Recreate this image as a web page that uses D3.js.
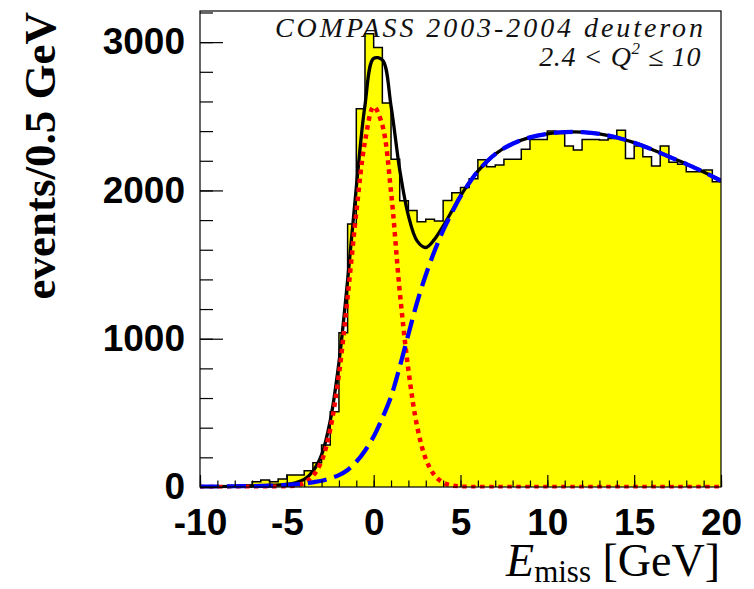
<!DOCTYPE html>
<html><head><meta charset="utf-8">
<script src="https://cdn.jsdelivr.net/npm/d3@7"></script>
<style>body{margin:0;background:#fff}</style>
</head><body>
<svg id="c" width="754" height="589"></svg>
<script>
// Histogram: lower bin edges (GeV), 0.5 GeV bins
const binLow = [-10,-9.5,-9,-8.5,-8,-7.5,-7,-6.5,-6,-5.5,-5,-4.5,-4,-3.5,-3,-2.5,-2,-1.5,-1,-0.5,
  0,0.5,1,1.5,2,2.5,3,3.5,4,4.5,5,5.5,6,6.5,7,7.5,8,8.5,9,9.5,
  10,10.5,11,11.5,12,12.5,13,13.5,14,14.5,15,15.5,16,16.5,17,17.5,18,18.5,19,19.5];
const binCounts = [3,4,6,8,10,14,36,47,36,54,81,81,110,164,283,508,1040,1773,2550,3057,
  2964,2590,2210,1930,1865,1789,1805,1794,1932,1985,2020,2078,2207,2160,2171,2210,2210,2277,2344,2344,
  2400,2384,2300,2272,2344,2344,2340,2350,2405,2216,2299,2227,2165,2300,2190,2176,2126,2126,2137,2059];
const histUpperEdge = 20;

// Fit curves
const curveE = [-10,-9,-8,-7,-6,-5,-4.5,-4,-3.5,-3,-2.5,-2,-1.5,-1,-0.5,0,0.5,1,1.5,2,2.5,3,3.5,4,4.5,5,5.5,6,
  7,8,9,10,11,12,13,14,15,16,17,18,19,20];
const signalFit = [0,0,0,0,1,4,10,28,75,175,390,760,1280,1850,2330,2565,2440,1990,1320,790,410,190,80,30,10,3,1,0,
  0,0,0,0,0,0,0,0,0,0,0,0,0,0];
const backgroundFit = [2,3,4,6,9,14,18,23,32,42,58,80,115,170,245,340,465,610,810,1030,1245,1430,1590,1730,1850,1960,2050,2130,
  2245,2315,2358,2382,2393,2393,2382,2357,2322,2278,2228,2178,2125,2065];
const totalFit = [2,3,4,6,10,18,28,51,107,217,448,840,1395,2020,2575,2890,2880,2570,2140,1830,1660,1615,1670,1760,1860,1963,2051,2130,
  2245,2315,2358,2382,2393,2393,2382,2357,2322,2278,2228,2178,2125,2065];

const xMajorTicks = [-10,-5,0,5,10,15,20];
const xMinorTicks = [-10,-9,-8,-7,-6,-5,-4,-3,-2,-1,0,1,2,3,4,5,6,7,8,9,10,11,12,13,14,15,16,17,18,19,20];
const yMajorTicks = [0,1000,2000,3000];
const yMinorTicks = [0,200,400,600,800,1000,1200,1400,1600,1800,2000,2200,2400,2600,2800,3000,3200];

const legendLine1 = "COMPASS 2003-2004 deuteron";

const svg = d3.select('#c');
svg.append('rect').attr('width',754).attr('height',589).attr('fill','#fff');

const L=200, R=721, T=11, B=487;
const x = d3.scaleLinear().domain([-10,20]).range([L,R]);
const y = d3.scaleLinear().domain([0,3210]).range([B,T]);

svg.append('clipPath').attr('id','frame').append('rect')
  .attr('x',L).attr('y',T).attr('width',R-L).attr('height',B-T);
svg.append('clipPath').attr('id','frame2').append('rect')
  .attr('x',L).attr('y',T).attr('width',R-L).attr('height',B-T+1.5);

const plot = svg.append('g').attr('clip-path','url(#frame)');
const curves = svg.append('g').attr('clip-path','url(#frame2)');

const histPts = binLow.map((e,i)=>[e,binCounts[i]]);
histPts.push([histUpperEdge, binCounts[binCounts.length-1]]);

plot.append('path')
  .attr('d', d3.area().x(d=>x(d[0])).y0(y(0)).y1(d=>y(d[1])).curve(d3.curveStepAfter)(histPts))
  .attr('fill','#ffff00');
plot.append('path')
  .attr('d', d3.line().x(d=>x(d[0])).y(d=>y(d[1])).curve(d3.curveStepAfter)(histPts))
  .attr('fill','none').attr('stroke','#000').attr('stroke-width',1.5);

const fitLine = vals => d3.line().x((d,i)=>x(curveE[i])).y(d=>y(d)).curve(d3.curveCatmullRom)(vals);

curves.append('path').attr('d',fitLine(totalFit))
  .attr('fill','none').attr('stroke','#000').attr('stroke-width',3.3);
curves.append('path').attr('d',fitLine(signalFit))
  .attr('fill','none').attr('stroke','#ff0000').attr('stroke-width',4.5).attr('stroke-dasharray','4.5 4.5');
curves.append('path').attr('d',fitLine(backgroundFit))
  .attr('fill','none').attr('stroke','#0000ff').attr('stroke-width',4.3).attr('stroke-dasharray','19 8');

// axes
const labelFont = "'Liberation Sans', Arial, sans-serif";
function styleAxis(g){ g.select('.domain').remove(); g.selectAll('line').attr('stroke','#000').attr('stroke-width',1.2); }

svg.append('g').attr('transform',`translate(0,${B})`)
  .call(d3.axisBottom(x).tickValues(xMinorTicks).tickSize(-6.5).tickFormat(''))
  .call(styleAxis);
const gxM = svg.append('g').attr('transform',`translate(0,${B})`)
  .call(d3.axisBottom(x).tickValues(xMajorTicks).tickSize(-12).tickPadding(22).tickFormat(d=>String(d)))
  .call(styleAxis);
gxM.selectAll('text').attr('font-family',labelFont).attr('font-weight','bold').attr('font-size',37).attr('fill','#000');

svg.append('g').attr('transform',`translate(${L},0)`)
  .call(d3.axisLeft(y).tickValues(yMinorTicks).tickSize(-13).tickFormat(''))
  .call(styleAxis);
const gyM = svg.append('g').attr('transform',`translate(${L},0)`)
  .call(d3.axisLeft(y).tickValues(yMajorTicks).tickSize(-23).tickPadding(15).tickFormat(d=>String(d)))
  .call(styleAxis);
gyM.selectAll('text').attr('font-family',labelFont).attr('font-weight','bold').attr('font-size',37).attr('fill','#000');

// frame
svg.append('rect').attr('x',L).attr('y',T).attr('width',R-L).attr('height',B-T)
  .attr('fill','none').attr('stroke','#000').attr('stroke-width',1.2);

// axis titles
const serif = "'Liberation Serif', 'Times New Roman', serif";
svg.append('text').attr('transform','translate(55,12) rotate(-90)')
  .attr('text-anchor','end').attr('font-family',serif).attr('font-weight','bold').attr('font-size',45)
  .text('events/0.5 GeV');

const xt = svg.append('text').attr('x',720).attr('y',576).attr('text-anchor','end')
  .attr('font-family',serif).attr('font-size',46);
xt.append('tspan').attr('font-style','italic').text('E');
xt.append('tspan').attr('font-size',31).attr('dy',6).text('miss');
xt.append('tspan').attr('dy',-6).text('\u00a0[GeV]');

// legend text
svg.append('text').attr('x',275).attr('y',37).attr('textLength',428).attr('lengthAdjust','spacing')
  .attr('font-family',serif).attr('font-style','italic').attr('font-size',28).attr('fill','#111')
  .text(legendLine1);
const l2 = svg.append('text').attr('x',701).attr('y',66).attr('text-anchor','end')
  .attr('font-family',serif).attr('font-style','italic').attr('font-size',28).attr('fill','#111')
  .attr('letter-spacing',0.6);
l2.append('tspan').text('2.4 < Q');
l2.append('tspan').attr('font-size',17).attr('dy',-12).text('2');
l2.append('tspan').attr('dy',12).text(' \u2264 10');
</script>
</body></html>
